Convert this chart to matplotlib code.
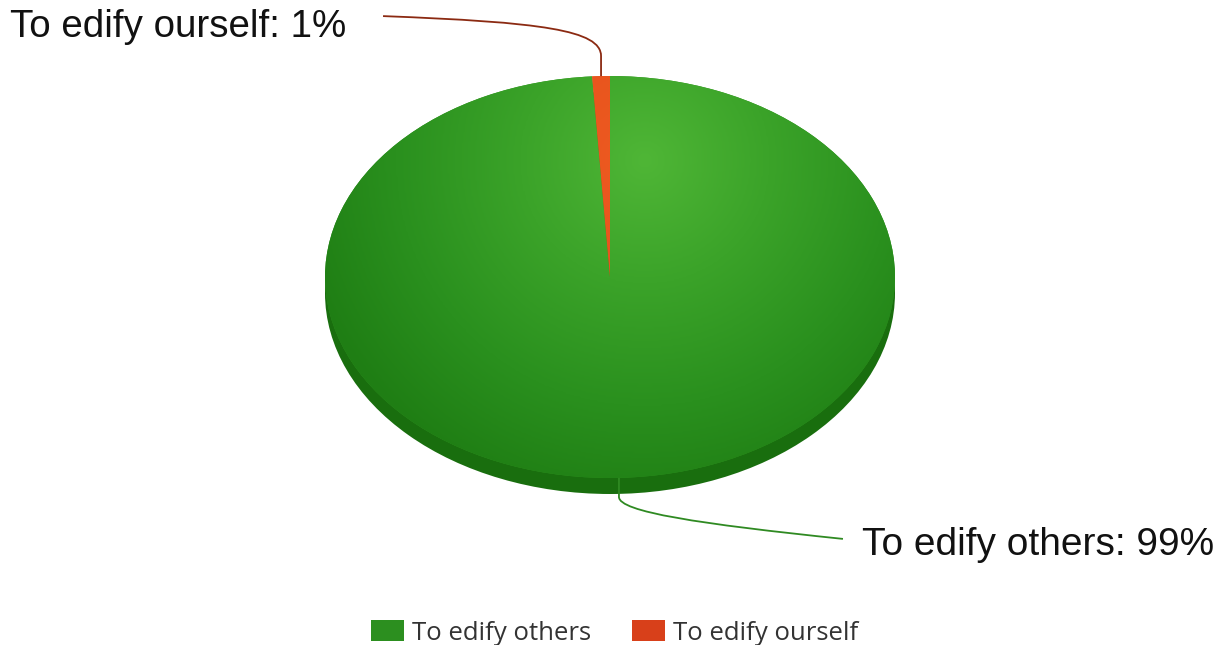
import numpy as np
import matplotlib
matplotlib.use("Agg")
import matplotlib.pyplot as plt
from matplotlib.patches import Ellipse, Patch
from matplotlib.path import Path
from matplotlib.patches import PathPatch
from matplotlib.transforms import Affine2D
from matplotlib.colors import LinearSegmentedColormap

# ---- data ----
categories = ["To edify others", "To edify ourself"]
values = [99, 1]
label_texts = ["To edify others: 99%", "To edify ourself: 1%"]

# ---- styles ----
top_colors = ["#2f921f", "#e2511c"]
line_colors = ["#2f8a22", "#8b2a12"]
legend_colors = ["#2c8f1f", "#d8401a"]
side_color = "#196e0e"

W, H = 1219, 645
fig = plt.figure(figsize=(W / 100, H / 100), dpi=100)
ax = fig.add_axes([0, 0, 1, 1])

cx, cy, rx, ry, depth = 610, 277, 285, 201, 16

wedges, _ = ax.pie(values, startangle=90, counterclock=False, colors=top_colors,
                   wedgeprops=dict(linewidth=0))
ax.set_xlim(0, W)
ax.set_ylim(H, 0)
ax.set_aspect("auto")
ax.axis("off")

pie_tr = Affine2D().scale(rx, -ry).translate(cx, cy) + ax.transData

# side (thickness)
side = Ellipse((0, -depth / ry), 2, 2, facecolor=side_color, edgecolor="none",
               transform=pie_tr, zorder=1)
ax.add_patch(side)

for w in wedges:
    w.set_transform(pie_tr)
    w.set_zorder(2)

# gradient on top face of the big slice
gx = np.linspace(cx - rx, cx + rx, 400)
gy = np.linspace(cy - ry, cy + ry, 300)
GX, GY = np.meshgrid(gx, gy)
d = np.sqrt(((GX - 645) / (rx * 1.25)) ** 2 + ((GY - 160) / (ry * 1.75)) ** 2)
d = np.clip(d, 0, 1)
cmap = LinearSegmentedColormap.from_list(
    "g", [(0, "#4fb636"), (0.35, "#3ba329"), (0.7, "#2a901e"), (1, "#1f7e14")])
im = ax.imshow(d, cmap=cmap, vmin=0, vmax=1,
               extent=(cx - rx, cx + rx, cy + ry, cy - ry),
               origin="upper", zorder=3, interpolation="bilinear", aspect="auto")
im.set_clip_path(wedges[0])

# red slice on top with gradient
cmap_r = LinearSegmentedColormap.from_list("r", ["#ee5a20", "#dc4a1a"])
im2 = ax.imshow(d, cmap=cmap_r, vmin=0, vmax=1,
                extent=(cx - rx, cx + rx, cy + ry, cy - ry),
                origin="upper", zorder=4, interpolation="bilinear", aspect="auto")
im2.set_clip_path(wedges[1])

# ---- labels with leader lines ----
for i, w in enumerate(wedges):
    mid = np.deg2rad((w.theta1 + w.theta2) / 2)
    ax_ = cx + rx * np.cos(mid)
    ay_ = cy - ry * np.sin(mid)
    if np.sin(mid) > 0:  # top label
        verts = [(ax_, ay_), (ax_, ay_ - 20), (ax_, ay_ - 46), (ax_ - 60, ay_ - 54),
                 (ax_ - 218, ay_ - 60)]
        codes = [Path.MOVETO, Path.LINETO, Path.CURVE4, Path.CURVE4, Path.CURVE4]
        ax.add_patch(PathPatch(Path(verts, codes), facecolor="none",
                               edgecolor=line_colors[i], lw=1.3, zorder=5))
        ax.text(10, 27, label_texts[i], fontsize=27.7, family="Liberation Sans",
                ha="left", va="center", color="#111111")
    else:
        verts = [(ax_, ay_), (ax_, ay_ + 19), (ax_, ay_ + 34), (ax_ + 80, ay_ + 46),
                 (ax_ + 224, ay_ + 61)]
        codes = [Path.MOVETO, Path.LINETO, Path.CURVE4, Path.CURVE4, Path.CURVE4]
        ax.add_patch(PathPatch(Path(verts, codes), facecolor="none",
                               edgecolor=line_colors[i], lw=1.3, zorder=5))
        ax.text(862, 545, label_texts[i], fontsize=28, family="Liberation Sans",
                ha="left", va="center", color="#111111")

# ---- legend ----
handles = [Patch(facecolor=c, edgecolor="none") for c in legend_colors]
leg = fig.legend(handles, categories, loc="center", ncol=2,
                 bbox_to_anchor=(0.504, 1 - 633 / H), frameon=False,
                 prop=dict(family="Open Sans", size=18.5), labelcolor="#333333",
                 handlelength=1.3, handleheight=0.85, handletextpad=0.3,
                 columnspacing=1.6, borderpad=0)

fig.savefig("out.png", dpi=100)
